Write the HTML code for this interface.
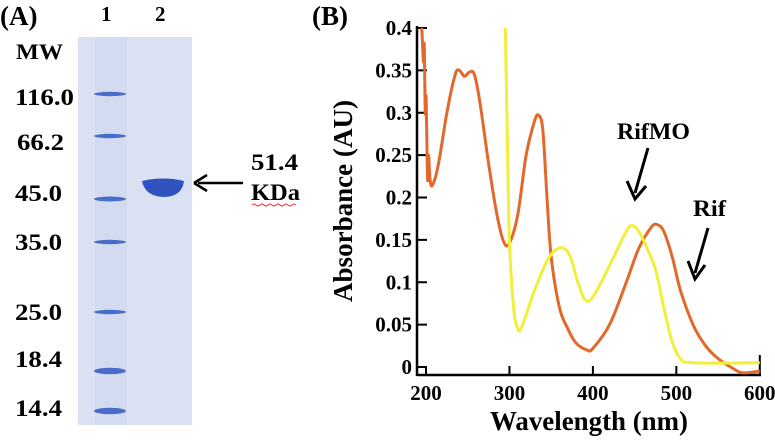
<!DOCTYPE html>
<html><head><meta charset="utf-8"><style>
body{margin:0;background:#fff;width:775px;height:439px;overflow:hidden;font-family:"Liberation Serif",serif;}
</style></head><body>
<svg width="775" height="439" xmlns="http://www.w3.org/2000/svg" font-family="Liberation Serif, serif" font-weight="bold">
<g>
<text x="0" y="25" font-size="27">(A)</text>
<text x="101" y="21" font-size="21">1</text>
<text x="155" y="21" font-size="21">2</text>
<rect x="78" y="37" width="114" height="388" fill="#dae1f2"/>
<rect x="95" y="37" width="32" height="388" fill="#d3dbf0"/>
<text x="16" y="59" font-size="22" textLength="47" lengthAdjust="spacingAndGlyphs">MW</text>
<g font-size="23">
<text x="15" y="105" textLength="59" lengthAdjust="spacingAndGlyphs">116.0</text><text x="17" y="150" textLength="47" lengthAdjust="spacingAndGlyphs">66.2</text><text x="15" y="201" textLength="47" lengthAdjust="spacingAndGlyphs">45.0</text>
<text x="15" y="250" textLength="47" lengthAdjust="spacingAndGlyphs">35.0</text><text x="15" y="320" textLength="47" lengthAdjust="spacingAndGlyphs">25.0</text><text x="15" y="367" textLength="47" lengthAdjust="spacingAndGlyphs">18.4</text><text x="15" y="416" textLength="47" lengthAdjust="spacingAndGlyphs">14.4</text>
</g>
<g fill="#4a6cc8">
<ellipse cx="110" cy="94" rx="16" ry="2.2"/><ellipse cx="110" cy="136" rx="16" ry="2.2"/><ellipse cx="110" cy="199" rx="16" ry="2.5"/>
<ellipse cx="110" cy="242" rx="16" ry="2.2"/><ellipse cx="110" cy="312" rx="16" ry="2.2"/><ellipse cx="110" cy="371" rx="16" ry="3.2"/><ellipse cx="110" cy="411" rx="16" ry="3.2"/>
</g>
<path d="M142,181 Q163,176 184,181 Q182,197 163,197 Q145,196 142,181Z" fill="#2f52bf"/>
<g><line x1="198" y1="183" x2="243" y2="183" stroke="#000" stroke-width="2.5"/><path d="M194,183 L207,175 M194,183 L207,191" stroke="#000" stroke-width="2.5" fill="none"/></g>
<text x="251" y="170" font-size="23" textLength="47" lengthAdjust="spacingAndGlyphs">51.4</text>
<text x="251" y="200" font-size="23" textLength="49" lengthAdjust="spacingAndGlyphs">KDa</text>
<path d="M252,205 q2,-2 4,0 t4,0 t4,0 t4,0 t4,0 t4,0 t4,0 t4,0 t4,0 t4,0 t4,0" stroke="#e33" stroke-width="1" fill="none"/>
</g>
<g>
<text x="312" y="25" font-size="27">(B)</text>
<g id="axes"></g>
<g id="curves"></g>
<text x="617" y="139" font-size="23" textLength="73" lengthAdjust="spacingAndGlyphs">RifMO</text>
<path d="M648,148 L635,193 M627,181 L635,199 L646,186" stroke="#000" stroke-width="3" fill="none"/>
<text x="693" y="216" font-size="23" textLength="33" lengthAdjust="spacingAndGlyphs">Rif</text>
<path d="M708,228 L695,273 M688,261 L695,279 L705,265" stroke="#000" stroke-width="3" fill="none"/>
<text x="589" y="430" font-size="27" text-anchor="middle" textLength="198" lengthAdjust="spacingAndGlyphs">Wavelength (nm)</text>
<text transform="translate(352,201) rotate(-90)" font-size="27" text-anchor="middle" textLength="202" lengthAdjust="spacingAndGlyphs">Absorbance (AU)</text>
</g>
</svg>
<script>
const xTicks=[200,300,400,500,600];
const yTicks=[0,0.05,0.1,0.15,0.2,0.25,0.3,0.35,0.4];
const yTickLabels=["0","0.05","0.1","0.15","0.2","0.25","0.3","0.35","0.4"];
const rifWl=[195,197,198,199,200,201,202,203,205,208,215,225,235,240,246,252,258,265,275,285,293,300,310,320,330,335,340,345,350,360,370,380,393,400,420,440,455,470,477,485,495,505,520,535,550,570,580,600];
const rifAbs=[0.40,0.36,0.38,0.30,0.32,0.27,0.22,0.25,0.22,0.215,0.24,0.30,0.345,0.35,0.343,0.348,0.345,0.31,0.24,0.18,0.148,0.146,0.18,0.25,0.29,0.297,0.28,0.20,0.13,0.07,0.045,0.028,0.02,0.022,0.05,0.10,0.14,0.165,0.168,0.16,0.13,0.09,0.05,0.025,0.01,-0.003,-0.007,-0.005];
const rifmoWl=[295,297,300,305,310,315,330,345,355,365,373,382,390,398,410,425,440,447,455,465,475,485,495,505,520,600];
const rifmoAbs=[0.40,0.30,0.15,0.07,0.045,0.048,0.09,0.125,0.138,0.14,0.13,0.10,0.08,0.08,0.10,0.13,0.16,0.167,0.16,0.14,0.115,0.07,0.03,0.01,0.005,0.005];
const NS="http://www.w3.org/2000/svg";
const X=w=>426+(w-200)*0.8345;
const Y=v=>367-v*847.5;
function mk(t,a,p){const e=document.createElementNS(NS,t);for(const k in a)e.setAttribute(k,a[k]);p.appendChild(e);return e;}
const ax=document.getElementById('axes');
const xl=mk('line',{x1:417,y1:375,x2:761,y2:375,stroke:'#000','stroke-width':2.5},ax);


const yl=mk('line',{x1:417,y1:26,x2:417,y2:376,stroke:'#000','stroke-width':2.5},ax);


xTicks.forEach(t=>{
  mk('line',{x1:X(t),y1:375,x2:X(t),y2:t==600?355:366,stroke:'#000','stroke-width':2},ax);
  const tx=mk('text',{x:X(t),y:400,'font-size':21,'text-anchor':'middle'},ax);tx.textContent=t;
  
  
});
yTicks.forEach((t,i)=>{
  mk('line',{x1:417,y1:Y(t),x2:427,y2:Y(t),stroke:'#000','stroke-width':2},ax);
  const tx=mk('text',{x:412,y:Y(t)+7,'font-size':21,'text-anchor':'end'},ax);tx.textContent=yTickLabels[i];
  
  
});
const cg=document.getElementById('curves');
function smooth(ws,vs){
  const p=ws.map((w,i)=>[X(w),Y(vs[i])]);
  let d='M'+p[0][0].toFixed(1)+','+p[0][1].toFixed(1);
  for(let i=0;i<p.length-1;i++){
    const a=p[Math.max(0,i-1)],b=p[i],c=p[i+1],e=p[Math.min(p.length-1,i+2)];
    const c1=[b[0]+(c[0]-a[0])/6,b[1]+(c[1]-a[1])/6],c2=[c[0]-(e[0]-b[0])/6,c[1]-(e[1]-b[1])/6];
    d+=' C'+c1.map(v=>v.toFixed(1))+' '+c2.map(v=>v.toFixed(1))+' '+c.map(v=>v.toFixed(1));
  }
  return d;
}
const p1=mk('path',{d:smooth(rifWl,rifAbs),stroke:'#e2692b','stroke-width':3,fill:'none','stroke-linejoin':'round'},cg);


const p2=mk('path',{d:smooth(rifmoWl,rifmoAbs),stroke:'#f3ee3a','stroke-width':3,fill:'none','stroke-linejoin':'round'},cg);


</script>
</body></html>
